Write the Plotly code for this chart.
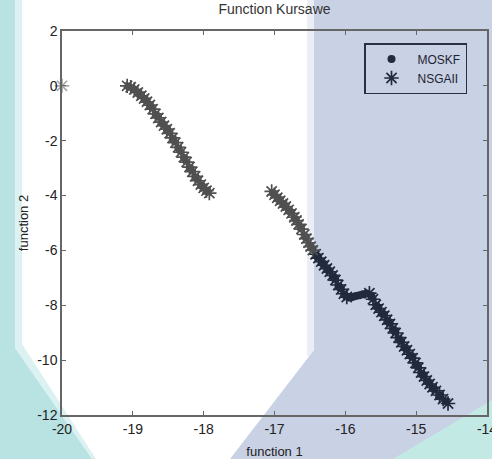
import plotly.graph_objects as go

# Pareto front samples of the Kursawe problem (function 1, function 2)
moskf_f1 = [-19.06, -18.99, -18.91, -18.83, -18.75, -18.67, -18.59, -18.51, -18.43, -18.35,
            -18.27, -18.19, -18.11, -18.03, -17.95,
            -17.02, -16.94, -16.86, -16.78, -16.70, -16.63, -16.56, -16.48, -16.40, -16.32,
            -16.24, -16.16, -16.08, -16.01, -15.95, -15.90, -15.85, -15.80, -15.75, -15.70,
            -15.63, -15.55, -15.47, -15.39, -15.31, -15.23, -15.15, -15.07, -14.99, -14.91,
            -14.83, -14.75, -14.66, -14.58]
moskf_f2 = [-0.02, -0.12, -0.30, -0.50, -0.74, -1.06, -1.35, -1.61, -1.94, -2.29,
            -2.64, -3.00, -3.34, -3.63, -3.84,
            -3.91, -4.13, -4.35, -4.58, -4.87, -5.17, -5.52, -5.90, -6.21, -6.47,
            -6.72, -6.99, -7.34, -7.62, -7.72, -7.70, -7.66, -7.63, -7.60, -7.57,
            -7.68, -8.05, -8.31, -8.60, -8.92, -9.27, -9.57, -9.85, -10.19, -10.52,
            -10.80, -11.04, -11.30, -11.50]

nsgaii_f1 = [-20.00,
             -19.08, -19.03, -18.98, -18.93, -18.88, -18.84, -18.80, -18.76, -18.72, -18.68,
             -18.64, -18.60, -18.56, -18.52, -18.48, -18.44, -18.40, -18.36, -18.32, -18.28,
             -18.24, -18.20, -18.16, -18.12, -18.08, -18.04, -18.00, -17.96, -17.92,
             -17.04, -17.00, -16.96, -16.92, -16.88, -16.84, -16.80, -16.76, -16.72, -16.69,
             -16.66, -16.62, -16.58, -16.55, -16.52, -16.49, -16.46, -16.42, -16.38, -16.34,
             -16.30, -16.26, -16.22, -16.18, -16.14, -16.10, -16.06, -16.02, -15.98,
             -15.66, -15.61, -15.57, -15.53, -15.49, -15.45, -15.41, -15.37, -15.33, -15.29,
             -15.25, -15.21, -15.17, -15.13, -15.09, -15.05, -15.01, -14.97, -14.93, -14.89,
             -14.85, -14.81, -14.77, -14.72, -14.67, -14.62, -14.55]
nsgaii_f2 = [0.00,
             0.00, -0.05, -0.13, -0.24, -0.36, -0.46, -0.58, -0.70, -0.85, -1.02,
             -1.17, -1.32, -1.45, -1.58, -1.73, -1.90, -2.07, -2.24, -2.42, -2.60,
             -2.78, -2.96, -3.13, -3.30, -3.46, -3.60, -3.72, -3.82, -3.91,
             -3.85, -3.97, -4.08, -4.19, -4.29, -4.40, -4.52, -4.65, -4.79, -4.91,
             -5.05, -5.22, -5.42, -5.57, -5.72, -5.86, -5.99, -6.14, -6.28, -6.41,
             -6.54, -6.66, -6.78, -6.91, -7.08, -7.26, -7.42, -7.58, -7.70,
             -7.56, -7.78, -7.98, -8.12, -8.25, -8.38, -8.53, -8.68, -8.84, -9.01,
             -9.18, -9.35, -9.50, -9.64, -9.78, -9.93, -10.10, -10.28, -10.45, -10.60,
             -10.74, -10.87, -10.99, -11.12, -11.27, -11.42, -11.58]

x_ticks = [-20, -19, -18, -17, -16, -15, -14]
y_ticks = [-12, -10, -8, -6, -4, -2, 0, 2]

W, H = 492, 459
L, R, T, B = 62, 487, 31, 415          # plot-area edges in pixels

GREY = "#505050"
NAVY = "#222a3d"
FAINT = "#a8a8a8"
SHADE_X = -16.45                       # left edge of the shaded panel, in function-1 units
FONT = "Liberation Sans, Arial, sans-serif"


def px(x, y):
    """pixel position -> paper coordinates"""
    return (x - L) / (R - L), (B - y) / (B - T)


def poly(points):
    pts = [px(x, y) for x, y in points]
    return "M " + " L ".join(f"{a:.4f},{b:.4f}" for a, b in pts) + " Z"


def ink(xs):
    cols = []
    for x in xs:
        if x <= -19.9:
            cols.append(FAINT)
        elif x > SHADE_X:
            cols.append(NAVY)
        else:
            cols.append(GREY)
    return cols


# points are plotted starting from the right-hand (f1 = -14.5) end of the front
m_x, m_y = moskf_f1[::-1], moskf_f2[::-1]
n_x, n_y = nsgaii_f1[::-1], nsgaii_f2[::-1]

fig = go.Figure()
fig.add_trace(go.Scatter(
    x=m_x, y=m_y, mode="markers", name="MOSKF",
    marker=dict(symbol="circle", size=8, color=ink(m_x), line=dict(width=0)),
    cliponaxis=False,
))
fig.add_trace(go.Scatter(
    x=n_x, y=n_y, mode="markers", name="NSGAII",
    marker=dict(symbol="asterisk-open", size=12, color=ink(n_x),
                line=dict(width=1.7, color=ink(n_x))),
    cliponaxis=False,
))

shapes = [
    # shaded panel on the right
    dict(type="path", path=poly([(314, 0), (W, 0), (W, H), (230, H), (314, 350)]),
         fillcolor="#c9d1e4", line=dict(width=0)),
    dict(type="path", path=poly([(307, 0), (314, 0), (314, 350), (309, 356), (307, 356)]),
         fillcolor="#ebeef5", line=dict(width=0)),
    # teal band on the left
    dict(type="path", path=poly([(15, 0), (22, 0), (22, 344), (96, 459), (92, 459), (15, 348)]),
         fillcolor="#dcf1f1", line=dict(width=0)),
    dict(type="path", path=poly([(0, 0), (15, 0), (15, 348), (92, 459), (0, 459)]),
         fillcolor="#b9e2e2", line=dict(width=0)),
    # teal corner bottom right
    dict(type="path", path=poly([(W, 400), (W, H), (393, H)]),
         fillcolor="#c3e9e5", line=dict(width=0)),
]
for s in shapes:
    s.update(xref="paper", yref="paper", layer="below")

axis_common = dict(
    showline=True, linecolor="#666666", linewidth=1.5, mirror="ticks",
    ticks="inside", ticklen=4, tickwidth=1, tickcolor="#666666",
    showgrid=False, zeroline=False, ticklabeloverflow="allow", automargin=False,
    tickfont=dict(family=FONT, size=14, color="#222222"),
    title_font=dict(family=FONT, size=13, color="#222222"),
)

fig.update_layout(
    width=W, height=H,
    margin=dict(l=L, r=W - R, t=T, b=H - B, autoexpand=False),
    paper_bgcolor="white", plot_bgcolor="rgba(0,0,0,0)",
    shapes=shapes,
    title=dict(text="Function Kursawe", x=(L + R) / 2 / W, xanchor="center",
               y=1 - 9 / H, yanchor="middle",
               font=dict(family=FONT, size=14, color="#333333")),
    xaxis=dict(range=[-20, -14], tickvals=x_ticks, ticktext=[str(v) for v in x_ticks],
               title=dict(text="function 1", standoff=12), **axis_common),
    yaxis=dict(range=[-12, 2], tickvals=y_ticks, ticktext=[str(v) for v in y_ticks],
               title=dict(text="function 2", standoff=6), **axis_common),
    legend=dict(x=px(364, 0)[0], y=px(0, 43)[1], xanchor="left", yanchor="top",
                bgcolor="rgba(0,0,0,0)", bordercolor="#2a2f3f", borderwidth=1.5,
                font=dict(family=FONT, size=12, color="#1e2333"),
                itemwidth=42, tracegroupgap=0),
    showlegend=True,
)

fig.write_html("out.html")
